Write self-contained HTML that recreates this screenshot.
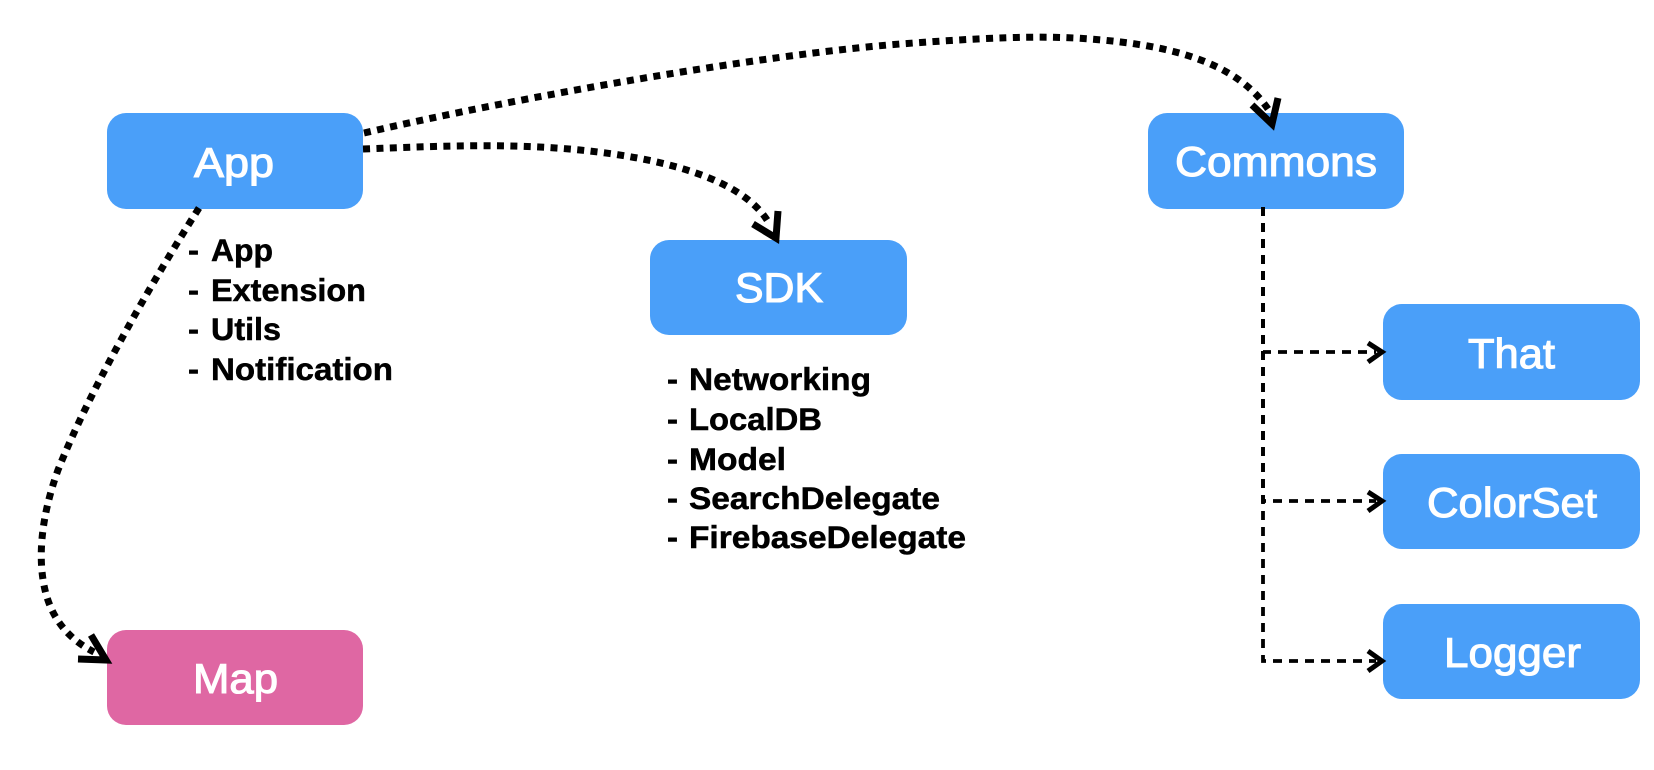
<!DOCTYPE html>
<html>
<head>
<meta charset="utf-8">
<style>
html,body{margin:0;padding:0;background:#fff;width:1654px;height:770px;overflow:hidden}
svg{display:block}
.l{font-family:"Liberation Sans",sans-serif;font-size:42px;fill:#fff;stroke:#fff;stroke-width:1.1px}
.t{font-family:"Liberation Sans",sans-serif;font-size:31.5px;font-weight:bold;fill:#000;stroke:#000;stroke-width:.5px}
</style>
</head>
<body>
<svg width="1654" height="770" viewBox="0 0 1654 770" xmlns="http://www.w3.org/2000/svg">
<g fill="#4a9ff9">
<rect x="107" y="113" width="256" height="96" rx="19"/>
<rect x="650" y="240" width="257" height="95" rx="19"/>
<rect x="1148" y="113" width="256" height="96" rx="19"/>
<rect x="1383" y="304" width="257" height="96" rx="19"/>
<rect x="1383" y="454" width="257" height="95" rx="19"/>
<rect x="1383" y="604" width="257" height="95" rx="19"/>
</g>
<rect x="107" y="630" width="256" height="95" rx="19" fill="#df67a3"/>

<g fill="none" stroke="#000" stroke-width="7" stroke-dasharray="7 6.4">
<path d="M364 133 C520 97 760 55 900 44 C980 38 1040 35 1090 39 C1170 45 1238 62 1270 112"/>
<path d="M363 149 C440 146 510 143 580 150 C660 158 745 178 770 225"/>
<path d="M199 208 C150 285 90 390 58 470 C40 520 38 560 45 590 C52 620 70 640 94 652"/>
</g>
<g fill="none" stroke="#000" stroke-width="7">
<path d="M1278 98 L1272 124 L1252 105"/>
<path d="M778 211 L776 238 L753 224"/>
<path d="M91 635 L106 660 L78 659"/>
</g>

<g fill="none" stroke="#000" stroke-width="3.8" stroke-dasharray="9 7">
<path d="M1263 207 V352 H1376"/>
<path d="M1263 207 V501 H1376"/>
<path d="M1263 207 V661 H1376"/>
</g>
<g fill="none" stroke="#000" stroke-width="5">
<path d="M1368 343 L1382 352 L1368 362"/>
<path d="M1368 492 L1382 501 L1368 511"/>
<path d="M1368 651 L1382 661 L1368 671"/>
</g>

<text class="l" x="194" y="177" textLength="80" lengthAdjust="spacingAndGlyphs">App</text>
<text class="l" x="735" y="302" textLength="88" lengthAdjust="spacingAndGlyphs">SDK</text>
<text class="l" x="1175" y="176" textLength="202" lengthAdjust="spacingAndGlyphs">Commons</text>
<text class="l" x="1468" y="368" textLength="87" lengthAdjust="spacingAndGlyphs">That</text>
<text class="l" x="1427" y="517" textLength="170" lengthAdjust="spacingAndGlyphs">ColorSet</text>
<text class="l" x="1444" y="667" textLength="137" lengthAdjust="spacingAndGlyphs">Logger</text>
<text class="l" x="193" y="693" textLength="85" lengthAdjust="spacingAndGlyphs">Map</text>

<text class="t" x="188" y="261" textLength="11" lengthAdjust="spacingAndGlyphs">-</text><text class="t" x="211" y="261" textLength="62" lengthAdjust="spacingAndGlyphs">App</text>
<text class="t" x="188" y="301" textLength="11" lengthAdjust="spacingAndGlyphs">-</text><text class="t" x="211" y="301" textLength="155" lengthAdjust="spacingAndGlyphs">Extension</text>
<text class="t" x="188" y="340" textLength="11" lengthAdjust="spacingAndGlyphs">-</text><text class="t" x="211" y="340" textLength="70" lengthAdjust="spacingAndGlyphs">Utils</text>
<text class="t" x="188" y="380" textLength="11" lengthAdjust="spacingAndGlyphs">-</text><text class="t" x="211" y="380" textLength="182" lengthAdjust="spacingAndGlyphs">Notification</text>

<text class="t" x="667" y="390" textLength="11" lengthAdjust="spacingAndGlyphs">-</text><text class="t" x="689" y="390" textLength="182" lengthAdjust="spacingAndGlyphs">Networking</text>
<text class="t" x="667" y="430" textLength="11" lengthAdjust="spacingAndGlyphs">-</text><text class="t" x="689" y="430" textLength="133" lengthAdjust="spacingAndGlyphs">LocalDB</text>
<text class="t" x="667" y="470" textLength="11" lengthAdjust="spacingAndGlyphs">-</text><text class="t" x="689" y="470" textLength="97" lengthAdjust="spacingAndGlyphs">Model</text>
<text class="t" x="667" y="509" textLength="11" lengthAdjust="spacingAndGlyphs">-</text><text class="t" x="689" y="509" textLength="251" lengthAdjust="spacingAndGlyphs">SearchDelegate</text>
<text class="t" x="667" y="548" textLength="11" lengthAdjust="spacingAndGlyphs">-</text><text class="t" x="689" y="548" textLength="277" lengthAdjust="spacingAndGlyphs">FirebaseDelegate</text>
</svg>
</body>
</html>
